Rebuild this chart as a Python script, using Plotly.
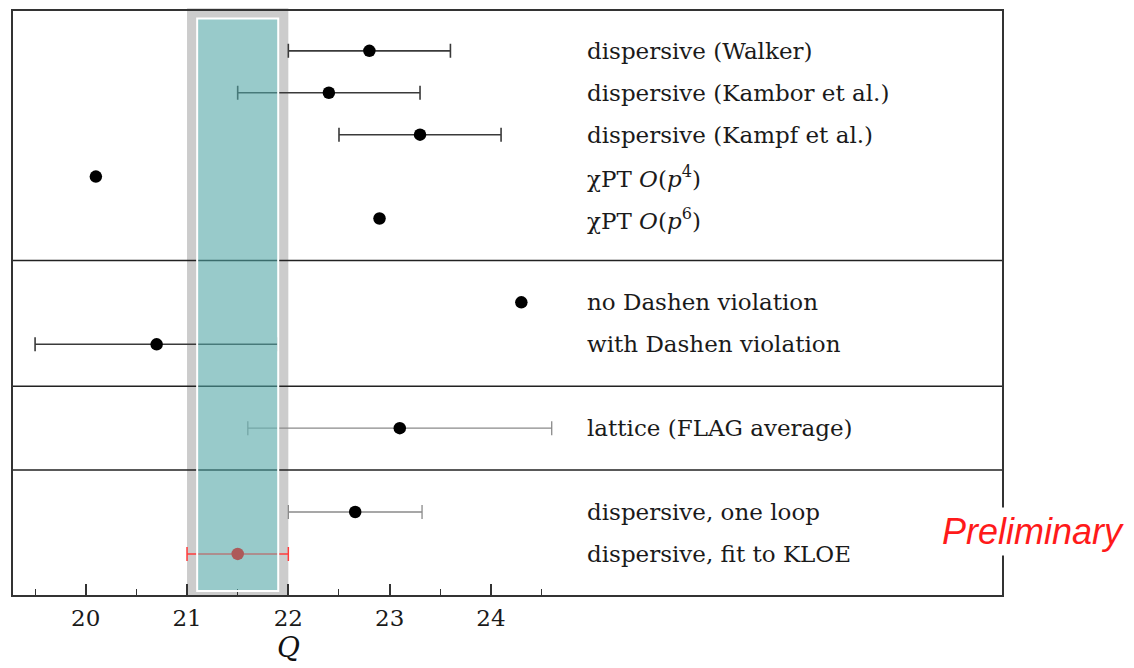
import plotly.graph_objects as go

# ---------------- data ----------------
labels = [
    "dispersive (Walker)",
    "dispersive (Kambor et al.)",
    "dispersive (Kampf et al.)",
    "χPT <i>O</i>(<i>p</i><sup>4</sup>)",
    "χPT <i>O</i>(<i>p</i><sup>6</sup>)",
    "no Dashen violation",
    "with Dashen violation",
    "lattice (FLAG average)",
    "dispersive, one loop",
    "dispersive, fit to KLOE",
]
groups = [0, 0, 0, 0, 0, 1, 1, 2, 3, 3]
q_values = [22.8, 22.4, 23.3, 20.1, 22.9, 24.3, 20.7, 23.1, 22.66, 21.5]
err_plus = [0.8, 0.9, 0.8, None, None, None, 1.2, 1.5, 0.66, 0.5]
err_minus = [0.8, 0.9, 0.8, None, None, None, 1.2, 1.5, 0.66, 0.5]
styles = ["dark", "dark", "dark", "dark", "dark", "dark", "dark", "light", "light", "red"]

band_outer = (21.0, 22.0)   # grey band
band_inner = (21.1, 21.9)   # teal band

major_ticks = [20, 21, 22, 23, 24]
minor_ticks = [19.5, 20.5, 21.5, 22.5, 23.5, 24.5]
x_range = [19.282, 29.045]

# row positions: one empty slot between groups
rows = [i + 1 + g for i, g in enumerate(groups)]
separators = sorted({rows[i] - 1 for i in range(1, len(rows)) if groups[i] != groups[i - 1]})

style_def = {
    "dark": dict(marker="black", err="#3a3a3a", thick=1.6),
    "light": dict(marker="black", err="#8a8a8a", thick=1.3),
    "red": dict(marker="#f20000", err="#ff3b3b", thick=1.5),
}

fig = go.Figure()

for st, sd in style_def.items():
    for has_err in (True, False):
        idx = [i for i in range(len(q_values))
               if styles[i] == st and ((err_plus[i] is not None) == has_err)]
        if not idx:
            continue
        tr = dict(
            x=[q_values[i] for i in idx],
            y=[rows[i] for i in idx],
            mode="markers",
            marker=dict(color=sd["marker"], size=12.5, line=dict(width=0)),
            showlegend=False,
            hoverinfo="skip",
        )
        if has_err:
            tr["error_x"] = dict(
                type="data", symmetric=False,
                array=[err_plus[i] for i in idx],
                arrayminus=[err_minus[i] for i in idx],
                color=sd["err"], thickness=sd["thick"], width=7,
            )
        fig.add_trace(go.Scatter(**tr))

shapes = []
# grey band (below)
shapes.append(dict(type="rect", xref="x", yref="paper",
                   x0=band_outer[0], x1=band_outer[1], y0=0, y1=1.0045,
                   fillcolor="#cccccc", line=dict(width=0), layer="below"))
# group separators
for s in separators:
    shapes.append(dict(type="line", xref="paper", yref="y", x0=0, x1=1, y0=s, y1=s,
                       line=dict(color="#222222", width=1.6), layer="below"))
# teal band (above, semi transparent)
shapes.append(dict(type="rect", xref="x", yref="paper",
                   x0=band_inner[0], x1=band_inner[1], y0=0.0068, y1=0.987,
                   fillcolor="rgba(89,200,200,0.45)", line=dict(color="white", width=2),
                   layer="above"))

annotations = []
for lab, r in zip(labels, rows):
    annotations.append(dict(x=24.93, y=r, xref="x", yref="y", text=lab, showarrow=False,
                            xanchor="left", yanchor="middle",
                            font=dict(family="DejaVu Serif", size=23, color="#1a1a1a")))
annotations.append(dict(x=22.0, y=-0.1216, xref="x", yref="paper", text="<i>Q</i>",
                        showarrow=False, xanchor="center", yanchor="bottom",
                        font=dict(family="DejaVu Serif", size=28, color="#111111")))
annotations.append(dict(x=1.031, y=0.109, xref="paper", yref="paper", text="<i>Preliminary</i>",
                        showarrow=False, xanchor="center", yanchor="middle",
                        bgcolor="white", borderpad=3,
                        font=dict(family="Liberation Sans", size=36, color="#ff1a1a")))

# page body adds an 8 px margin; size and margins compensate for it
fig.update_layout(
    width=1126, height=660,
    margin=dict(l=5, r=132, t=1, b=73),
    paper_bgcolor="white", plot_bgcolor="white",
    shapes=shapes, annotations=annotations,
    xaxis=dict(range=x_range, showgrid=False, zeroline=False,
               showline=True, mirror=True, linecolor="#333333", linewidth=1.6,
               tickmode="array", tickvals=major_ticks, ticks="inside", ticklen=11,
               tickwidth=1.6, tickcolor="#333333",
               minor=dict(tickmode="array", tickvals=minor_ticks, ticks="inside",
                          ticklen=6, tickwidth=1.4, tickcolor="#333333", showgrid=False),
               tickfont=dict(family="DejaVu Serif", size=23, color="#1a1a1a"),
               ticklabelstandoff=2),
    yaxis=dict(range=[13.98, 0.05], showgrid=False, zeroline=False, showticklabels=False,
               ticks="", showline=True, mirror=True, linecolor="#333333", linewidth=1.6),
)

fig.write_html("out.html")
